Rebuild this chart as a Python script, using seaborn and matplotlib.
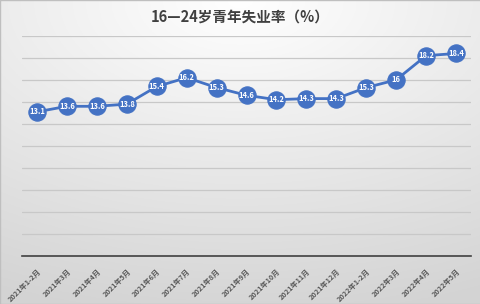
import numpy as np
import pandas as pd
import matplotlib
matplotlib.use("Agg")
import matplotlib.pyplot as plt
import seaborn as sns

months = ["2021年1-2月", "2021年3月", "2021年4月", "2021年5月", "2021年6月", "2021年7月",
          "2021年8月", "2021年9月", "2021年10月", "2021年11月", "2021年12月", "2022年1-2月",
          "2022年3月", "2022年4月", "2022年5月"]
rates = [13.1, 13.6, 13.6, 13.8, 15.4, 16.2, 15.3, 14.6, 14.2, 14.3, 14.3, 15.3, 16, 18.2, 18.4]
labels = ["13.1", "13.6", "13.6", "13.8", "15.4", "16.2", "15.3", "14.6", "14.2", "14.3",
          "14.3", "15.3", "16", "18.2", "18.4"]
title = "16—24岁青年失业率（%）"

sns.set_theme(style="white")
plt.rcParams['font.family'] = ['Noto Sans CJK SC', 'DejaVu Sans']

df = pd.DataFrame({"month": months, "rate": rates})

fig = plt.figure(figsize=(4.81, 3.04), dpi=100)

# gradient background
bg = fig.add_axes([0, 0, 1, 1], zorder=-5)
yy, xx = np.mgrid[0:1:200j, 0:1:300j]
d = np.sqrt(((xx - 0.5) * 0.9) ** 2 + (yy * 1.0) ** 2)
d = np.clip(d / 1.05, 0, 1)
top = np.array([1.0, 1.0, 1.0])
bot = np.array([0.83, 0.83, 0.83])
img = top[None, None, :] * (1 - d[..., None]) + bot[None, None, :] * d[..., None]
bg.imshow(img, aspect="auto", extent=[0, 1, 1, 0])
bg.set_axis_off()
fig.patches.append(plt.Rectangle((0, 0), 1, 1, transform=fig.transFigure, fill=False,
                                 edgecolor="#bfbfbf", linewidth=1.0, zorder=10))

ax = fig.add_axes([0.046, 0.158, 0.933, 0.724])
ax.set_facecolor("none")
color = "#4472C4"
sns.lineplot(data=df, x="month", y="rate", ax=ax, color=color, linewidth=2.0,
             marker="o", markersize=12.5, markeredgecolor=color, markerfacecolor=color,
             sort=False)
for i, (v, t) in enumerate(zip(rates, labels)):
    ax.text(i, v, t, ha="center", va="center", color="white", fontsize=5.5,
            fontweight="bold", zorder=5)

ax.set_ylim(0, 20)
ax.set_yticks(np.arange(0, 21, 2))
ax.set_xlim(-0.5, len(months) - 0.5)
ax.yaxis.grid(True, color="#c8c8c8", linewidth=0.9)
ax.set_axisbelow(True)
ax.tick_params(axis="y", left=False, labelleft=False)
ax.tick_params(axis="x", bottom=False, pad=2)
ax.set_xlabel("")
ax.set_ylabel("")
for side in ["top", "right", "left"]:
    ax.spines[side].set_visible(False)
ax.spines["bottom"].set_color("#404040")
ax.spines["bottom"].set_linewidth(1.2)
ax.set_xticks(range(len(months)))
ax.set_xticklabels(months, rotation=45, ha="right", rotation_mode="anchor",
                   fontsize=5.2, fontweight="bold", color="#595959")

fig.text(0.5, 0.945, title, ha="center", va="center", fontsize=10.5,
         fontweight="bold", color="#404040")

fig.savefig("out.png", dpi=100)
